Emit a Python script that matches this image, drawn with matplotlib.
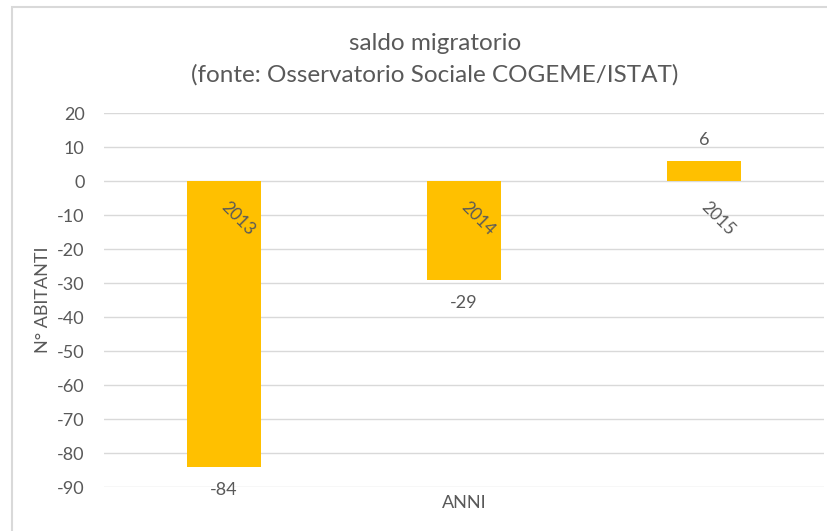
import matplotlib.pyplot as plt
from matplotlib.patches import Rectangle

# Data
years = ["2013", "2014", "2015"]
saldo = [-84, -29, 6]
y_ticks = list(range(-90, 30, 10))

TEXT_COLOR = "#595959"
GRID_COLOR = "#d9d9d9"
BAR_COLOR = "#FFC000"

plt.rcParams['font.family'] = ['Lato', 'DejaVu Sans']

fig = plt.figure(figsize=(8.28, 5.31), dpi=100)

# chart frame (light gray border, left and top visible)
fig.patches.append(Rectangle((12 / 828, -0.05), 1.0, 1 - 7 / 531 + 0.05,
                             transform=fig.transFigure, fill=False,
                             edgecolor=GRID_COLOR, linewidth=1.5))

ax = fig.add_axes([104 / 828, 1 - 487 / 531, 720 / 828, 374 / 531])

x = list(range(len(years)))
ax.bar(x, saldo, width=0.31, color=BAR_COLOR, zorder=3)

ax.set_xlim(-0.5, len(years) - 0.5)
ax.set_ylim(-90, 20)
ax.set_yticks(y_ticks)
ax.set_yticklabels([str(t) for t in y_ticks])
ax.tick_params(axis='y', length=0, pad=14, labelsize=13, labelcolor=TEXT_COLOR)
ax.set_xticks([])

for s in ax.spines.values():
    s.set_visible(False)
ax.yaxis.grid(True, color=GRID_COLOR, linewidth=1)
ax.set_axisbelow(True)

# category labels drawn at the zero line, rotated
for xi, label in zip(x, years):
    ax.annotate(label, xy=(xi, 0), xytext=(10, -27), textcoords='offset points',
                rotation=-45, rotation_mode='anchor', ha='center', va='center',
                fontsize=12.5, color=TEXT_COLOR, zorder=4)

# value labels
for xi, v in zip(x, saldo):
    off = 15 if v > 0 else -17
    ax.annotate(str(v), xy=(xi, v), xytext=(0, off), textcoords='offset points',
                ha='center', va='center', fontsize=13, color=TEXT_COLOR)

ax.set_ylabel("N° ABITANTI", fontsize=13, color=TEXT_COLOR, labelpad=4)
fig.text(464 / 828, 1 - 503 / 531, "ANNI", ha='center', va='center',
         fontsize=13, color=TEXT_COLOR)

fig.text(435 / 828, 1 - 43 / 531, "saldo migratorio", ha='center', va='center',
         fontsize=17.5, color=TEXT_COLOR)
fig.text(435 / 828, 1 - 75 / 531, "(fonte: Osservatorio Sociale COGEME/ISTAT)",
         ha='center', va='center', fontsize=17.5, color=TEXT_COLOR)

fig.savefig("out.png", dpi=100)
